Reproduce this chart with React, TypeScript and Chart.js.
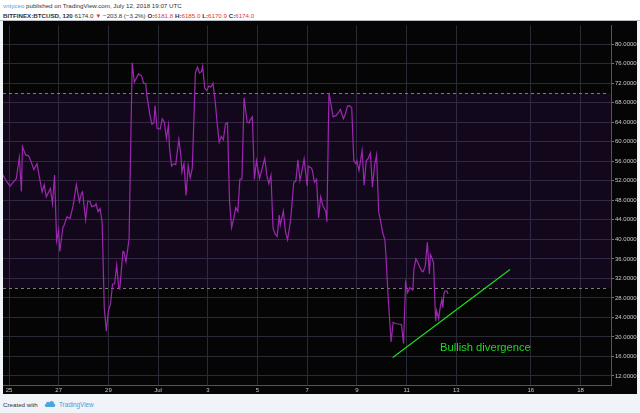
import React, { useEffect, useRef } from "react";
import { Chart, registerables } from "chart.js";
Chart.register(...registerables);

// RSI(14) samples, x = hours since Jun 25 00:00 (2h bars), y = RSI value
const hours = [
  -6, -3, 1, 4, 7, 10, 12, 13, 16, 19, 21, 24, 27, 29, 32, 34, 36, 40, 42, 44,
  46, 48, 49, 52, 53, 56, 59, 62, 65, 68, 70, 71, 74, 76, 78, 80, 83, 84, 86, 88,
  90, 92, 94, 96, 98, 100, 102, 104, 106, 107, 110, 111, 113, 116, 117, 119, 121, 125, 128, 130,
  132, 133, 136, 138, 140, 141, 143, 146, 148, 150, 152, 154, 155, 157, 159, 161, 164, 166, 167, 169,
  171, 173, 175, 177, 178, 180, 182, 184, 186, 187, 189, 191, 193, 195, 197, 199, 201, 203, 205, 207,
  209, 211, 213, 215, 217, 219, 221, 223, 225, 227, 230, 232, 233, 235, 237, 239, 242, 247, 249, 251,
  253, 255, 257, 259, 261, 262, 265, 267, 269, 272, 275, 277, 279, 281, 283, 285, 288, 289, 292, 293,
  295, 297, 299, 301, 303, 306, 307, 309, 311, 313, 316, 318, 320, 323, 325, 327, 329, 331, 333, 335,
  336, 338, 341, 343, 345, 347, 349, 351, 353, 355, 357, 359, 361, 363, 364, 366, 369, 371, 374, 378,
  379, 381, 383, 385, 387, 390, 391, 393, 395, 397, 399, 400, 402, 404, 406, 407, 409, 410, 412, 413,
  415, 416, 418, 419, 420, 421, 423, 424,
];
const rsiValues = [
  53.2, 52.1, 50.9, 51.7, 52.4, 56.8, 49.8, 59.0, 57.3, 57.1, 56.1, 54.3, 55.5, 53.2, 49.7, 51.2, 48.7, 50.4, 47.3, 53.2,
  39.7, 41.9, 37.5, 42.4, 42.8, 44.6, 44.3, 47.0, 51.2, 47.7, 49.4, 49.7, 44.0, 47.8, 47.8, 46.7, 46.9, 47.3, 45.7, 46.3,
  43.3, 26.0, 21.2, 25.4, 26.7, 30.8, 30.9, 34.7, 30.1, 29.8, 37.5, 37.4, 35.4, 40.2, 53.1, 76.2, 72.2, 73.9, 73.5, 72.0,
  71.9, 69.7, 65.6, 63.6, 63.9, 67.4, 62.7, 62.6, 64.7, 64.0, 60.7, 63.4, 58.8, 55.0, 55.5, 55.3, 60.5, 57.2, 53.8, 55.5,
  49.0, 55.1, 52.6, 54.6, 60.9, 74.1, 75.3, 74.1, 74.4, 75.5, 71.0, 70.5, 71.4, 71.2, 72.0, 68.6, 63.9, 59.9, 61.1, 60.4,
  63.6, 63.9, 47.7, 42.4, 44.3, 46.5, 45.7, 52.3, 52.4, 69.0, 64.0, 63.9, 64.5, 65.1, 52.3, 56.1, 52.5, 56.6, 53.1, 51.4,
  53.1, 42.3, 41.1, 40.6, 45.0, 42.9, 45.8, 41.6, 39.9, 44.0, 51.7, 51.9, 56.3, 52.1, 54.1, 56.5, 50.9, 55.0, 54.6, 54.1,
  51.7, 52.3, 44.4, 48.7, 47.0, 45.7, 43.6, 70.0, 67.6, 65.1, 65.4, 65.9, 66.6, 64.7, 65.8, 67.3, 67.4, 66.9, 56.1, 55.5,
  56.1, 54.1, 58.2, 51.1, 56.1, 56.6, 57.7, 50.7, 55.1, 57.3, 45.7, 43.6, 41.3, 39.9, 36.9, 28.8, 19.0, 23.0, 22.7, 22.6,
  22.5, 18.6, 31.1, 29.1, 30.1, 29.6, 33.8, 36.0, 35.2, 34.2, 33.4, 33.4, 34.5, 39.4, 32.9, 36.9, 35.9, 35.2, 23.3, 25.4,
  23.7, 25.5, 27.7, 26.0, 28.8, 29.4, 29.4, 28.8,
];

const xTickHours = [0, 48, 96, 144, 192, 240, 288, 336, 384, 432, 504, 552];
const xTickLabels = ["25", "27", "29", "Jul", "3", "5", "7", "9", "11", "13", "16", "18"];
const yTickValues = [12, 16, 20, 24, 28, 32, 36, 40, 44, 48, 52, 56, 60, 64, 68, 72, 76, 80];
const xMin = -5.8;
const xMax = 581.4;
const yMin = 10.15;
const yMax = 83.8;
const bandLow = 30;
const bandHigh = 70;

const trendHours = [370.6, 483.9];
const trendValues = [15.8, 33.8];
const noteText = "Bullish divergence";
const noteHour = 416.3;
const noteValue = 17.7;

const FONT = "'Liberation Sans', Arial, sans-serif";
const GREEN = "#1cdc1c";

const bandPlugin = {
  id: "rsiBand",
  beforeDatasetsDraw(chart: any) {
    const { ctx, chartArea: a, scales } = chart;
    const y = scales.y;
    const top = y.getPixelForValue(bandHigh);
    const bot = y.getPixelForValue(bandLow);
    ctx.save();
    ctx.fillStyle = "rgba(125, 30, 190, 0.12)";
    ctx.fillRect(a.left, top, a.right - a.left, bot - top);
    ctx.strokeStyle = "#7c7c7c";
    ctx.lineWidth = 1;
    ctx.setLineDash([3, 3]);
    for (const p of [top, bot]) {
      const py = Math.round(p) + 0.5;
      ctx.beginPath();
      ctx.moveTo(a.left, py);
      ctx.lineTo(a.right - 3, py);
      ctx.stroke();
    }
    ctx.restore();
  },
  afterDatasetsDraw(chart: any) {
    const { ctx, scales } = chart;
    ctx.save();
    ctx.fillStyle = GREEN;
    ctx.font = `11.2px ${FONT}`;
    ctx.textAlign = "left";
    ctx.textBaseline = "middle";
    ctx.fillText(noteText, scales.x.getPixelForValue(noteHour), scales.y.getPixelForValue(noteValue));
    ctx.restore();
  },
};

function RsiChart() {
  const ref = useRef<HTMLCanvasElement | null>(null);
  useEffect(() => {
    if (!ref.current) return;
    const chart = new Chart(ref.current, {
      type: "line",
      data: {
        datasets: [
          {
            data: hours.map((h, i) => ({ x: h, y: rsiValues[i] })),
            borderColor: "#9c27b0",
            borderWidth: 1.2,
            pointRadius: 0,
            tension: 0,
          },
          {
            data: trendHours.map((h, i) => ({ x: h, y: trendValues[i] })),
            borderColor: GREEN,
            borderWidth: 1.2,
            pointRadius: 0,
          },
        ],
      },
      options: {
        animation: false,
        responsive: false,
        maintainAspectRatio: false,
        events: [],
        layout: { padding: { top: 1, left: 0, right: 0, bottom: 0 } },
        plugins: { legend: { display: false }, tooltip: { enabled: false } },
        scales: {
          x: {
            type: "linear",
            min: xMin,
            max: xMax,
            afterBuildTicks: (s: any) => {
              s.ticks = xTickHours.map((v) => ({ value: v }));
            },
            afterFit: (s: any) => {
              s.height = 9;
            },
            ticks: {
              autoSkip: false,
              maxRotation: 0,
              padding: 2,
              color: "#c8c8c8",
              font: { size: 6, family: FONT },
              callback: (v: any) => xTickLabels[xTickHours.indexOf(Number(v))] ?? "",
            },
            grid: { color: "#2a2a34", drawTicks: false },
            border: { color: "#555555" },
          },
          y: {
            position: "right",
            min: yMin,
            max: yMax,
            afterBuildTicks: (s: any) => {
              s.ticks = yTickValues.map((v) => ({ value: v }));
            },
            afterFit: (s: any) => {
              s.width = 26;
            },
            ticks: {
              padding: 1,
              color: "#c8c8c8",
              font: { size: 6, family: FONT },
              callback: (v: any) => Number(v).toFixed(4),
            },
            grid: { color: "#2a2a34", tickLength: 3, tickColor: "#777777" },
            border: { color: "#555555" },
          },
        },
      },
      plugins: [bandPlugin],
    } as any);
    return () => chart.destroy();
  }, []);
  return (
    <canvas
      ref={ref}
      width={634}
      height={373}
      style={{ position: "absolute", left: 3, top: 21, width: 634, height: 373, background: "#050505" }}
    />
  );
}

export default function App() {
  useEffect(() => {
    document.body.style.margin = "0";
  }, []);
  const red = "#d93a3a";
  const dark = "#333";
  return (
    <div
      style={{
        position: "relative",
        width: 640,
        height: 413,
        background: "#f0f3f7",
        overflow: "hidden",
        fontFamily: FONT,
      }}
    >
      <div style={{ position: "absolute", left: 0, top: 0, width: 640, height: 21, background: "#ffffff" }} />
      <div style={{ position: "absolute", left: 0, top: 20, width: 640, height: 1, background: "#b8bcc4" }} />
      <div style={{ position: "absolute", left: 3, top: 2, fontSize: 6.2, lineHeight: "7px", color: dark, whiteSpace: "nowrap" }}>
        <span style={{ color: "#3d9fdc" }}>vntyceo</span> published on TradingView.com, July 12, 2018 19:07 UTC
      </div>
      <div style={{ position: "absolute", left: 3, top: 11.5, fontSize: 6.2, lineHeight: "7px", color: dark, whiteSpace: "nowrap" }}>
        <b>BITFINEX:BTCUSD, 120</b> 6174.0 <span style={{ color: red }}>▼</span> −203.8 (−3.2%){" "}
        <b>O:</b><span style={{ color: red }}>6181.8</span> <b>H:</b><span style={{ color: red }}>6185.0</span>{" "}
        <b>L:</b><span style={{ color: red }}>6170.9</span> <b>C:</b><span style={{ color: red }}>6174.0</span>
      </div>
      <RsiChart />
      <div style={{ position: "absolute", left: 3, top: 400.5, fontSize: 6.2, lineHeight: "7px", color: dark, whiteSpace: "nowrap" }}>
        Created with
      </div>
      <svg style={{ position: "absolute", left: 44, top: 399 }} width={12} height={9} viewBox="0 0 12 9">
        <path d="M2.5 8 C0.6 8 0.2 5.4 2 5 C2 2.6 4.8 2 5.6 3.6 C6.4 1.2 10 1.6 9.8 4.4 C11.8 4.6 11.8 8 9.6 8 Z" fill="#4aa6dc" />
      </svg>
      <div style={{ position: "absolute", left: 59, top: 400.5, fontSize: 6.3, lineHeight: "7px", color: "#3d9fdc", whiteSpace: "nowrap" }}>
        TradingView
      </div>
    </div>
  );
}
